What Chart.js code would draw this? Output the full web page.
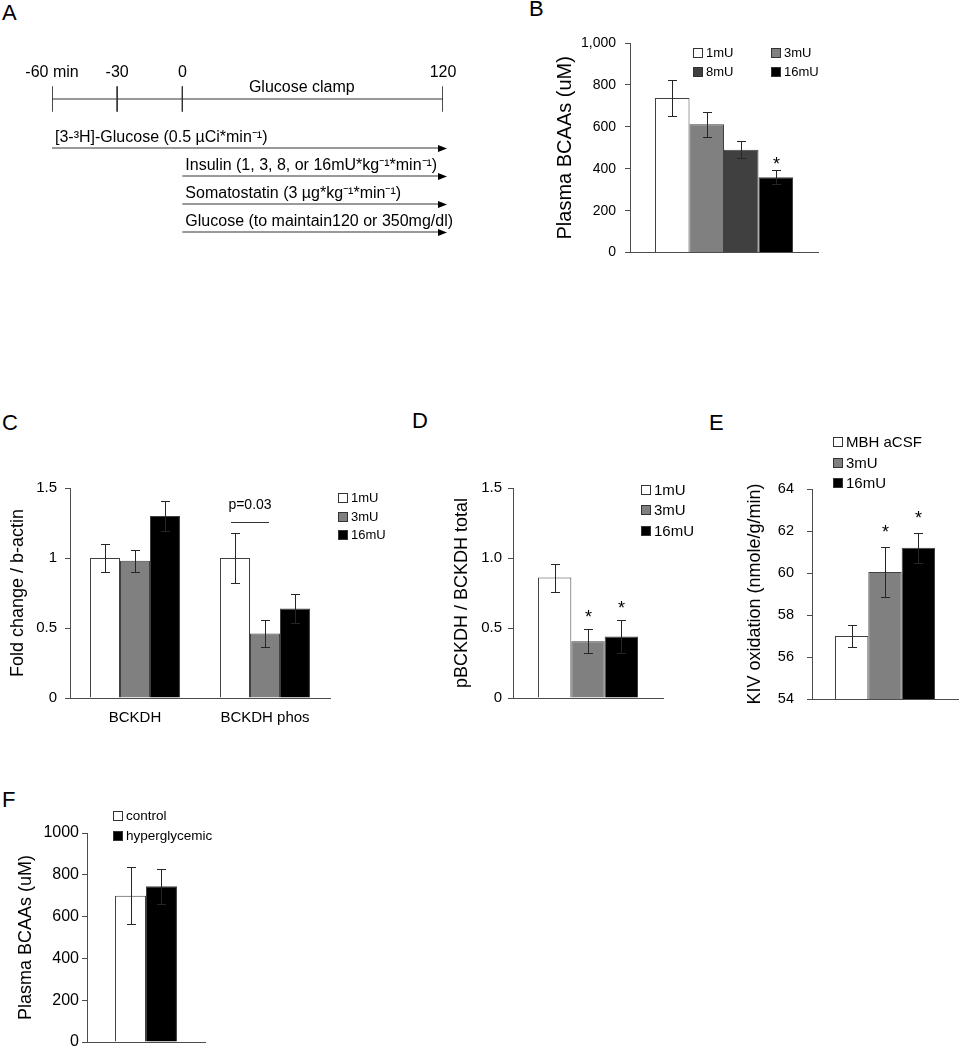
<!DOCTYPE html>
<html>
<head>
<meta charset="utf-8">
<title>Plasma BCAAs and BCKDH</title>
<script src="https://cdn.jsdelivr.net/npm/chart.js@4.4.1/dist/chart.umd.min.js"></script>
<style>
  body { margin:0; width:961px; height:1050px; overflow:hidden; position:relative; background:#fff;
         font-family:"Liberation Sans", Arial, sans-serif; }
  canvas { position:absolute; }
  .tag { position:absolute; font-size:22px; line-height:22px; color:#000; }
</style>
</head>
<body>
<div class="tag" style="left:2px;top:2px">A</div>
<div class="tag" style="left:529px;top:-2px">B</div>
<div class="tag" style="left:2px;top:412px">C</div>
<div class="tag" style="left:412px;top:410px">D</div>
<div class="tag" style="left:709px;top:412px">E</div>
<div class="tag" style="left:2px;top:789px">F</div>

<canvas id="chartA" width="480" height="220" style="left:0;top:40px"></canvas>
<canvas id="chartB" width="300" height="250" style="left:530px;top:20px"></canvas>
<canvas id="chartC" width="400" height="270" style="left:0;top:460px"></canvas>
<canvas id="chartD" width="290" height="270" style="left:420px;top:460px"></canvas>
<canvas id="chartE" width="261" height="300" style="left:700px;top:430px"></canvas>
<canvas id="chartF" width="250" height="260" style="left:0;top:800px"></canvas>

<script>
// ---- data ----
// A: protocol timeline (minutes)
var timeTicks = [-60, -30, 0, 120];
var timeTickLabels = ["-60 min", "-30", "0", "120"];
var clampLabel = "Glucose clamp";
var infusions = ["[3-\u00B3H]-Glucose (0.5 \u00B5Ci*min\u207B\u00B9)",
                 "Insulin (1, 3, 8, or 16mU*kg\u207B\u00B9*min\u207B\u00B9)",
                 "Somatostatin (3 \u00B5g*kg\u207B\u00B9*min\u207B\u00B9)",
                 "Glucose (to maintain120 or 350mg/dl)"];
var infusionStart = [-60, 0, 0, 0];
var infusionEnd = [120, 120, 120, 120];

// B: plasma BCAAs by insulin dose
var doseB = ["1mU", "3mU", "8mU", "16mU"];
var bcaaB = [738, 612, 491, 360];
var bcaaBErr = [84, 60, 42, 32];
var starB = [false, false, false, true];

// C: fold change / b-actin
var genesC = ["BCKDH", "BCKDH phos"];
var doseC = ["1mU", "3mU", "16mU"];
var foldC = [[1.0, 1.0], [0.98, 0.46], [1.30, 0.64]];
var foldCErr = [[0.10, 0.18], [0.08, 0.095], [0.11, 0.105]];
var pC = { group: 1, from: 0, to: 1, level: 1.26, label: "p=0.03" };

// D: pBCKDH / BCKDH total
var doseD = ["1mU", "3mU", "16mU"];
var ratioD = [0.86, 0.405, 0.44];
var ratioDErr = [0.10, 0.085, 0.12];
var starD = [false, true, true];

// E: KIV oxidation
var groupsE = ["MBH aCSF", "3mU", "16mU"];
var kivE = [57.0, 60.05, 61.2];
var kivEErr = [0.52, 1.17, 0.72];
var starE = [false, true, true];

// F: plasma BCAAs, control vs hyperglycemic
var groupsF = ["control", "hyperglycemic"];
var bcaaF = [700, 745];
var bcaaFErr = [135, 83];

var greys3 = ["#ffffff", "#808080", "#000000"];
var greys4 = ["#ffffff", "#808080", "#404040", "#000000"];
var greys2 = ["#ffffff", "#000000"];

var FONT = '"Liberation Sans", Arial, sans-serif';
var AXIS = "#4d4d4d";
var EDGE = "#404040";
Chart.defaults.font.family = FONT;
Chart.defaults.color = "#000";

// error bars + significance stars
function errorBars(errs, stars, starGap) {
  return {
    id: "errorBars",
    afterDatasetsDraw: function (chart) {
      var ctx = chart.ctx, y = chart.scales.y;
      ctx.save();
      ctx.strokeStyle = "#262626";
      ctx.lineWidth = 1;
      ctx.fillStyle = "#000";
      ctx.font = "18px " + FONT;
      ctx.textAlign = "center";
      chart.data.datasets.forEach(function (ds, i) {
        chart.getDatasetMeta(i).data.forEach(function (bar, j) {
          var v = ds.data[j], e = errs[i][j];
          var x = Math.round(bar.x) + 0.5;
          var top = Math.round(y.getPixelForValue(v + e)) + 0.5;
          var bot = Math.round(y.getPixelForValue(v - e)) + 0.5;
          ctx.beginPath();
          ctx.moveTo(x, top); ctx.lineTo(x, bot);
          ctx.moveTo(x - 4.5, top); ctx.lineTo(x + 4.5, top);
          ctx.moveTo(x - 4.5, bot); ctx.lineTo(x + 4.5, bot);
          ctx.stroke();
          if (stars && stars[i][j]) ctx.fillText("*", x, top - starGap + 10);
        });
      });
      ctx.restore();
    }
  };
}

// legend with little square boxes at fixed spots
function boxLegend(spots, size) {
  return {
    id: "boxLegend",
    afterDraw: function (chart) {
      var ctx = chart.ctx;
      ctx.save();
      ctx.font = size + "px " + FONT;
      ctx.textBaseline = "middle";
      ctx.textAlign = "left";
      chart.data.datasets.forEach(function (ds, i) {
        var p = spots[i];
        ctx.fillStyle = ds.backgroundColor;
        ctx.fillRect(p[0] + 0.5, p[1] - 4.5, 9, 9);
        ctx.strokeStyle = "#333";
        ctx.lineWidth = 1;
        ctx.strokeRect(p[0] + 0.5, p[1] - 4.5, 9, 9);
        ctx.fillStyle = "#000";
        ctx.fillText(ds.label, p[0] + 13, p[1] + 0.5);
      });
      ctx.restore();
    }
  };
}

function barOptions(c) {
  return {
    responsive: false,
    animation: false,
    devicePixelRatio: 1,
    layout: { padding: c.pad },
    datasets: { bar: { categoryPercentage: c.catPct, barPercentage: 1 } },
    plugins: { legend: { display: false }, tooltip: { enabled: false } },
    scales: {
      x: {
        grid: { display: false, drawTicks: false },
        border: { display: true, color: AXIS },
        ticks: { display: !!c.xTicks, font: { size: 15 }, padding: 11, color: "#000" },
        afterFit: function (s) { s.height = c.xH; }
      },
      y: {
        min: c.min, max: c.max,
        ticks: { stepSize: c.step, font: { size: c.tickSize }, padding: c.tickPad, color: "#000",
                 callback: c.fmt },
        grid: { drawOnChartArea: false, drawTicks: true, tickLength: 5, color: AXIS },
        border: { display: true, color: AXIS },
        title: { display: true, text: c.title, color: "#000", font: { size: c.titleSize },
                 padding: { top: c.titlePad, bottom: 0 } },
        afterFit: function (s) { s.width = c.yW; }
      }
    }
  };
}

function oneValueSets(names, values, colors) {
  return names.map(function (n, i) {
    return { label: n, data: [values[i]], backgroundColor: colors[i], borderColor: EDGE, borderWidth: 1 };
  });
}
function wrap(arr) { return arr.map(function (v) { return [v]; }); }

// ---- A: timeline drawn as line datasets ----
var lane = function (i) { return 1.75 + i; };
var dsA = [];
dsA.push({ data: [{ x: timeTicks[0], y: 0 }, { x: timeTicks[timeTicks.length - 1], y: 0 }] });
timeTicks.forEach(function (t) { dsA.push({ data: [{ x: t, y: -0.45 }, { x: t, y: 0.45 }] }); });
infusions.forEach(function (n, i) {
  dsA.push({ data: [{ x: infusionStart[i], y: lane(i) }, { x: infusionEnd[i], y: lane(i) }] });
});
dsA.forEach(function (d) {
  d.showLine = true; d.pointRadius = 0; d.borderColor = "#333"; d.borderWidth = 1; d.fill = false;
});

var timelineText = {
  id: "timelineText",
  afterDatasetsDraw: function (chart) {
    var ctx = chart.ctx, xs = chart.scales.x, ys = chart.scales.y;
    var y0 = ys.getPixelForValue(0);
    ctx.save();
    ctx.fillStyle = "#000";
    ctx.font = "16px " + FONT;
    ctx.textAlign = "center";
    timeTicks.forEach(function (t, i) {
      ctx.fillText(timeTickLabels[i], xs.getPixelForValue(t), y0 - 22);
    });
    ctx.fillText(clampLabel, xs.getPixelForValue(55), y0 - 7);
    ctx.textAlign = "left";
    infusions.forEach(function (n, i) {
      var yl = Math.round(ys.getPixelForValue(lane(i))) + 0.5;
      var xe = xs.getPixelForValue(infusionEnd[i]);
      ctx.fillText(n, xs.getPixelForValue(infusionStart[i]) + 3, yl - 7);
      ctx.beginPath();
      ctx.moveTo(xe + 4, yl); ctx.lineTo(xe - 5, yl - 3.5); ctx.lineTo(xe - 5, yl + 3.5);
      ctx.closePath();
      ctx.fill();
    });
    ctx.restore();
  }
};

new Chart(document.getElementById("chartA"), {
  type: "scatter",
  data: { datasets: dsA },
  options: {
    responsive: false, animation: false, devicePixelRatio: 1,
    layout: { padding: { left: 52, right: 37, top: 3, bottom: 7 } },
    plugins: { legend: { display: false }, tooltip: { enabled: false } },
    scales: {
      x: { type: "linear", min: -60, max: 120, display: false },
      y: { type: "linear", min: -2, max: 5.5, reverse: true, display: false }
    }
  },
  plugins: [timelineText]
});

// ---- B ----
new Chart(document.getElementById("chartB"), {
  type: "bar",
  data: { labels: [""], datasets: oneValueSets(doseB, bcaaB, greys4) },
  options: barOptions({
    pad: { left: 0, top: 23, right: 12, bottom: 0 }, catPct: 0.734, xH: 13,
    min: 0, max: 1000, step: 200, tickSize: 14, tickPad: 9,
    fmt: function (v) { return v.toLocaleString("en-US"); },
    title: "Plasma BCAAs (uM)", titleSize: 20, titlePad: 23, yW: 100
  }),
  plugins: [errorBars(wrap(bcaaBErr), wrap(starB), 11),
            boxLegend([[163, 33], [241, 33], [163, 52], [241, 52]], 13)]
});

// ---- C ----
new Chart(document.getElementById("chartC"), {
  type: "bar",
  data: {
    labels: genesC,
    datasets: doseC.map(function (d, i) {
      return { label: d, data: foldC[i], backgroundColor: greys3[i], borderColor: EDGE, borderWidth: 1 };
    })
  },
  options: barOptions({
    pad: { left: 0, top: 28, right: 70, bottom: 0 }, catPct: 0.692, xH: 32, xTicks: true,
    min: 0, max: 1.5, step: 0.5, tickSize: 15, tickPad: 8,
    fmt: function (v) { return String(v); },
    title: "Fold change / b-actin", titleSize: 18, titlePad: 7, yW: 70
  }),
  plugins: [errorBars(foldCErr, null, 0),
            boxLegend([[338, 38], [338, 57], [338, 75]], 13),
            {
              id: "pValue",
              afterDatasetsDraw: function (chart) {
                var ctx = chart.ctx, y = chart.scales.y;
                var xa = chart.getDatasetMeta(pC.from).data[pC.group].x;
                var xb = chart.getDatasetMeta(pC.to).data[pC.group].x;
                var yl = Math.round(y.getPixelForValue(pC.level)) + 0.5;
                ctx.save();
                ctx.strokeStyle = "#333"; ctx.lineWidth = 1;
                ctx.beginPath(); ctx.moveTo(xa - 4, yl); ctx.lineTo(xb + 4, yl); ctx.stroke();
                ctx.fillStyle = "#000"; ctx.font = "14px " + FONT; ctx.textAlign = "center";
                ctx.fillText(pC.label, (xa + xb) / 2, yl - 14);
                ctx.restore();
              }
            }]
});

// ---- D ----
new Chart(document.getElementById("chartD"), {
  type: "bar",
  data: { labels: [""], datasets: oneValueSets(doseD, ratioD, greys3) },
  options: barOptions({
    pad: { left: 0, top: 28, right: 47, bottom: 0 }, catPct: 0.667, xH: 32,
    min: 0, max: 1.5, step: 0.5, tickSize: 15, tickPad: 6,
    fmt: function (v) { return v === 0 ? "0" : v.toFixed(1); },
    title: "pBCKDH / BCKDH total", titleSize: 18, titlePad: 31, yW: 93
  }),
  plugins: [errorBars(wrap(ratioDErr), wrap(starD), 17),
            boxLegend([[221, 30], [221, 50], [221, 71]], 15)]
});

// ---- E ----
new Chart(document.getElementById("chartE"), {
  type: "bar",
  data: { labels: [""], datasets: oneValueSets(groupsE, kivE, greys3) },
  options: barOptions({
    pad: { left: 0, top: 59, right: 3, bottom: 0 }, catPct: 0.685, xH: 31,
    min: 54, max: 64, step: 2, tickSize: 14.5, tickPad: 13,
    fmt: function (v) { return String(v); },
    title: "KIV oxidation (nmole/g/min)", titleSize: 18, titlePad: 44, yW: 112
  }),
  plugins: [errorBars(wrap(kivEErr), wrap(starE), 20),
            boxLegend([[133, 12], [133, 33], [133, 53]], 15)]
});

// ---- F ----
new Chart(document.getElementById("chartF"), {
  type: "bar",
  data: { labels: [""], datasets: oneValueSets(groupsF, bcaaF, greys2) },
  options: barOptions({
    pad: { left: 0, top: 33, right: 45, bottom: 0 }, catPct: 0.525, xH: 18,
    min: 0, max: 1000, step: 200, tickSize: 16, tickPad: 3,
    fmt: function (v) { return String(v); },
    title: "Plasma BCAAs (uM)", titleSize: 18, titlePad: 15, yW: 87
  }),
  plugins: [errorBars(wrap(bcaaFErr), null, 0),
            boxLegend([[113, 16], [113, 36]], 13.5)]
});
</script>
</body>
</html>
